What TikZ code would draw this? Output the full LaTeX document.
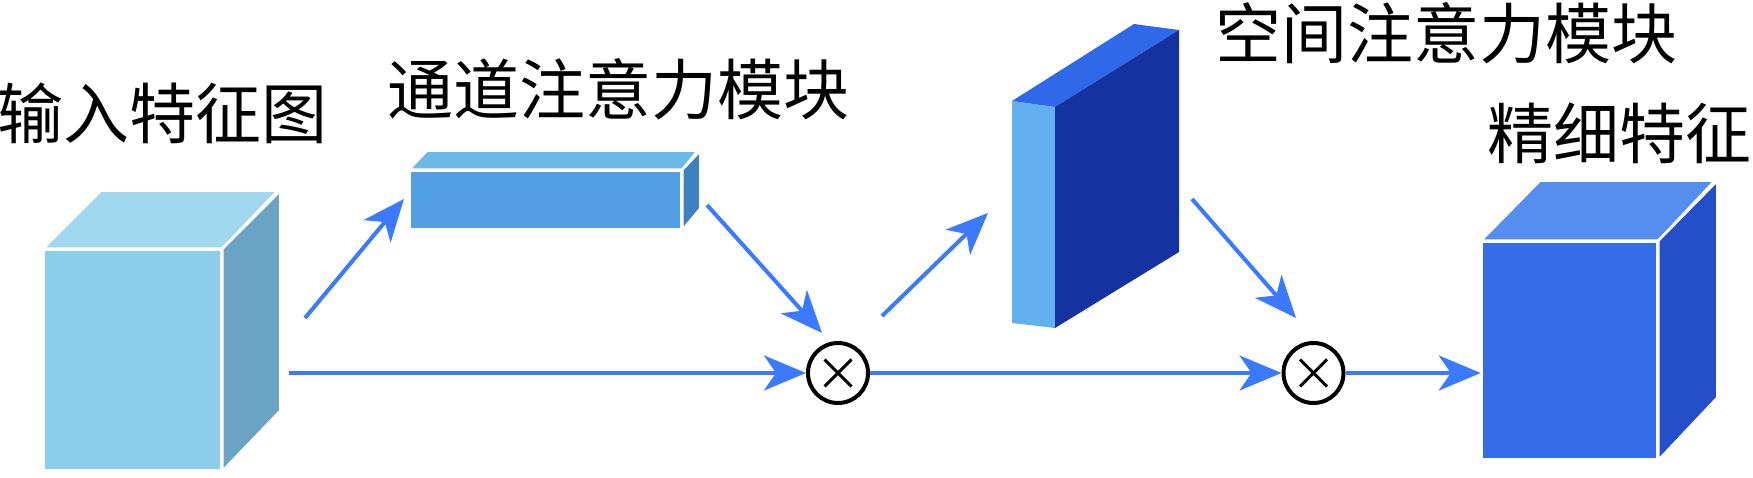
\documentclass[tikz,border=0pt]{standalone}
\usepackage{fontspec}
\newfontfamily\cjk{Noto Sans CJK SC}
\usetikzlibrary{arrows.meta, positioning}
\definecolor{arrowblue}{RGB}{59,121,255}
\definecolor{inFront}{RGB}{141,205,236}
\definecolor{inTop}{RGB}{160,216,238}
\definecolor{inSide}{RGB}{106,163,196}
\definecolor{caFront}{RGB}{82,160,227}
\definecolor{caTop}{RGB}{108,184,230}
\definecolor{caSide}{RGB}{62,128,192}
\definecolor{saLight}{RGB}{98,176,240}
\definecolor{saTop}{RGB}{47,104,232}
\definecolor{saDark}{RGB}{20,50,160}
\definecolor{outFront}{RGB}{53,108,232}
\definecolor{outTop}{RGB}{86,142,240}
\definecolor{outSide}{RGB}{36,79,200}

\begin{document}
\begin{tikzpicture}[
    x=1pt, y=-1pt,
    labeltext/.style={inner sep=0, anchor=base, font=\cjk\fontsize{66}{70}\selectfont},
    cubeface/.style={draw=white, line width=2.5pt, line join=round},
    frontface/.style={cubeface, rectangle, inner sep=0},
    multnode/.style={circle, draw=black, line width=4pt, minimum size=60pt, inner sep=0,
        path picture={
            \draw[line width=3pt] ([shift={(-13.5pt,-13.5pt)}]path picture bounding box.center) -- ([shift={(13.5pt,13.5pt)}]path picture bounding box.center);
            \draw[line width=3pt] ([shift={(-13.5pt,13.5pt)}]path picture bounding box.center) -- ([shift={(13.5pt,-13.5pt)}]path picture bounding box.center);
        }},
    arrow/.style={-{Stealth[length=42pt, width=35pt, inset=12pt]}, line width=4pt, draw=arrowblue}
]
\useasboundingbox (0,0) rectangle (1753,478);

\node[labeltext] (lin) at (162.5,139) {输入特征图};
\node[labeltext] (lca) at (618.5,115) {通道注意力模块};
\node[labeltext] (lsa) at (1446.5,59) {空间注意力模块};
\node[labeltext] (lout) at (1619,159) {精细特征};

\node[frontface, fill=inFront, minimum width=177pt, minimum height=220pt] (in) at (132.5,360) {};
\filldraw[cubeface, fill=inTop] (in.north west) -- ++(58,-58) -- ++(177,0) -- (in.north east) -- cycle;
\filldraw[cubeface, fill=inSide] (in.north east) -- ++(58,-58) -- ++(0,220) -- (in.south east) -- cycle;

\node[frontface, fill=caFront, minimum width=271pt, minimum height=58pt] (ca) at (545.5,200) {};
\filldraw[cubeface, fill=caTop] (ca.north west) -- ++(18,-19) -- ++(271,0) -- (ca.north east) -- cycle;
\filldraw[cubeface, fill=caSide] (ca.north east) -- ++(18,-19) -- ++(0,58) -- (ca.south east) -- cycle;

\fill[saLight] (1012,101) -- (1055,107) -- (1055,328) -- (1012,323) -- cycle;
\fill[saTop] (1012,101) -- (1134,24) -- (1179,30) -- (1055,107) -- cycle;
\fill[saDark] (1055,107) -- (1179,30) -- (1179,252) -- (1055,328) -- cycle;

\node[frontface, fill=outFront, minimum width=175pt, minimum height=217pt] (out) at (1569.5,350.5) {};
\filldraw[cubeface, fill=outTop] (out.north west) -- ++(59,-60) -- ++(175,0) -- (out.north east) -- cycle;
\filldraw[cubeface, fill=outSide] (out.north east) -- ++(59,-60) -- ++(0,217) -- (out.south east) -- cycle;

\node[multnode] (m1) at (838,373) {};
\node[multnode] (m2) at (1313.5,373) {};

\coordinate (a1s) at (305,318);
\coordinate (a1e) at (404,199);
\coordinate (a2s) at (707,205);
\coordinate (a2e) at (822,333);
\coordinate (a3s) at (882,316);
\coordinate (a3e) at (988,213);
\coordinate (a4s) at (1192,199);
\coordinate (a4e) at (1296,318);
\coordinate (h1s) at (289,373);

\draw[arrow] (a1s) -- (a1e);
\draw[arrow] (a2s) -- (a2e);
\draw[arrow] (a3s) -- (a3e);
\draw[arrow] (a4s) -- (a4e);
\draw[arrow] (h1s) -- (m1);
\draw[arrow] (m1) -- (m2);
\draw[arrow] (m2) -- (out.west |- m2);
\end{tikzpicture}
\end{document}
